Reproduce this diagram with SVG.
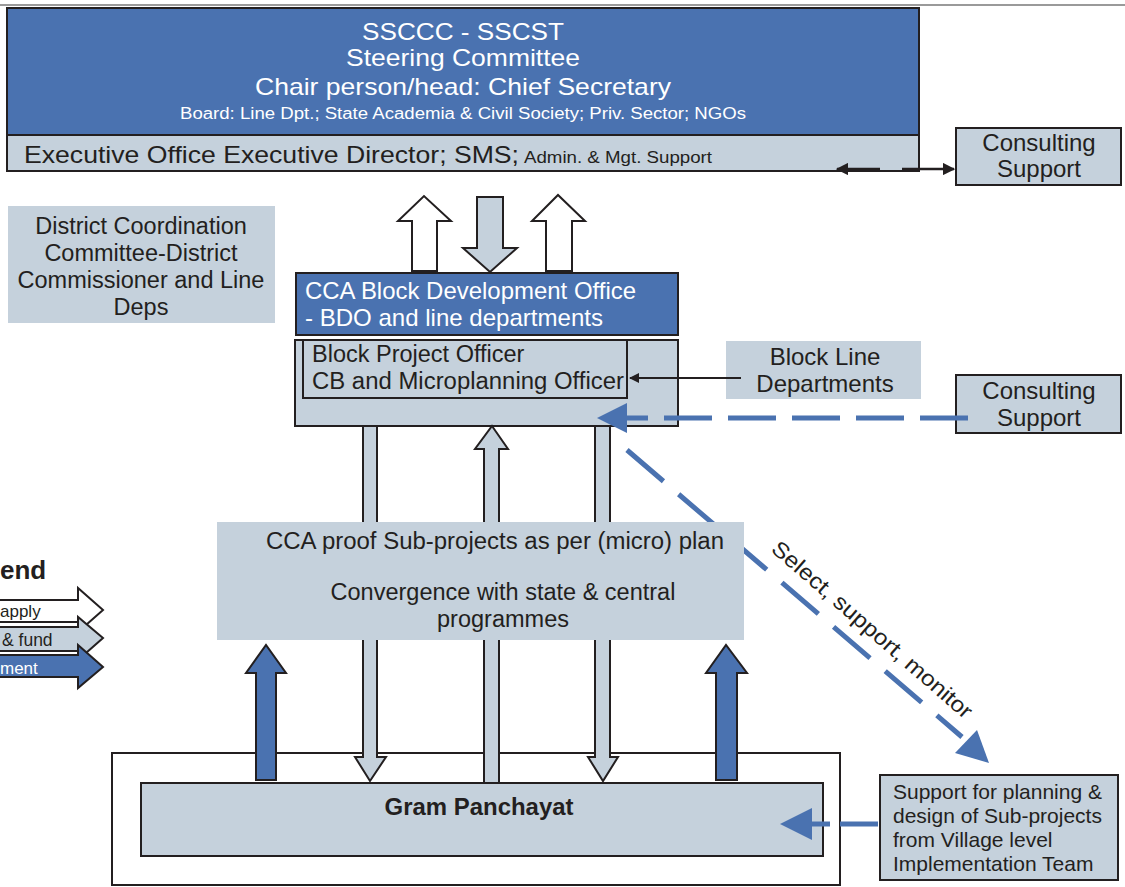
<svg xmlns="http://www.w3.org/2000/svg" width="1125" height="887" viewBox="0 0 1125 887">
<defs>
<style>
text{font-family:"Liberation Sans",Arial,sans-serif;fill:#231f20}
.blue{fill:#4a72b0}
.lg{fill:#c5d1dc}
.wh{fill:#ffffff}
.stk{stroke:#231f20;stroke-width:2}
.w{fill:#ffffff}
.dash{stroke:#4a72b0;stroke-width:5;fill:none;stroke-dasharray:48 16}
.mid{text-anchor:middle}
</style>
<marker id="ah" viewBox="0 0 10 10" refX="9" refY="5" markerWidth="5" markerHeight="5" orient="auto-start-reverse"><path d="M0,0 L10,5 L0,10 Z" fill="#231f20"/></marker>
</defs>
<rect width="1125" height="887" fill="#ffffff"/>
<line x1="0" y1="5" x2="1125" y2="5" stroke="#9a9a9a" stroke-width="2"/>

<g id="steering">
<rect x="7" y="8" width="912" height="127" class="blue stk"/>
<text x="463" y="40" class="mid" font-size="24" textLength="202" lengthAdjust="spacingAndGlyphs" style="fill:#fff">SSCCC - SSCST</text>
<text x="463" y="66" class="mid" font-size="24" textLength="234" lengthAdjust="spacingAndGlyphs" style="fill:#fff">Steering Committee</text>
<text x="463" y="95" class="mid" font-size="24" textLength="416" lengthAdjust="spacingAndGlyphs" style="fill:#fff">Chair person/head: Chief Secretary</text>
<text x="463" y="119" class="mid" font-size="16" textLength="566" lengthAdjust="spacingAndGlyphs" style="fill:#fff">Board: Line Dpt.; State Academia &amp; Civil Society; Priv. Sector; NGOs</text>
</g>
<g id="exec">
<rect x="7" y="135" width="912" height="36" class="lg stk"/>
<text x="24" y="163" font-size="24" textLength="495" lengthAdjust="spacingAndGlyphs">Executive Office Executive Director; SMS;</text>
<text x="524" y="163" font-size="16" textLength="188" lengthAdjust="spacingAndGlyphs">Admin. &amp; Mgt. Support</text>
</g>
<g id="consult1">
<rect x="956" y="128" width="165" height="57" class="lg stk"/>
<text x="1039" y="151" class="mid" font-size="24">Consulting</text>
<text x="1039" y="177" class="mid" font-size="24">Support</text>
</g>
<g id="district">
<rect x="8" y="206" width="267" height="117" class="lg"/>
<text x="141" y="234" class="mid" font-size="23.5">District Coordination</text>
<text x="141" y="261" class="mid" font-size="23.5">Committee-District</text>
<text x="141" y="288" class="mid" font-size="23.5">Commissioner and Line</text>
<text x="141" y="315" class="mid" font-size="23.5">Deps</text>
</g>
<g id="bdo">
<rect x="296" y="273" width="382" height="62" class="blue stk"/>
<text x="305" y="299" font-size="24" style="fill:#fff" textLength="331" lengthAdjust="spacingAndGlyphs">CCA Block Development Office</text>
<text x="305" y="326" font-size="24" style="fill:#fff" textLength="298" lengthAdjust="spacingAndGlyphs">- BDO and line departments</text>
</g>
<g id="bpo">
<rect x="295" y="340" width="383" height="86" class="lg stk"/>
<rect x="303" y="340" width="324" height="58" class="lg stk"/>
<text x="312" y="362" font-size="23.5">Block Project Officer</text>
<text x="312" y="389" font-size="23.5" textLength="312" lengthAdjust="spacingAndGlyphs">CB and Microplanning Officer</text>
</g>
<g id="blockline">
<rect x="726" y="341" width="195" height="58" class="lg"/>
<text x="825" y="365" class="mid" font-size="24">Block Line</text>
<text x="825" y="392" class="mid" font-size="24">Departments</text>
</g>
<g id="consult2">
<rect x="956" y="375" width="165" height="58" class="lg stk"/>
<text x="1039" y="399" class="mid" font-size="24">Consulting</text>
<text x="1039" y="426" class="mid" font-size="24">Support</text>
</g>

<g id="gpframe">
<rect x="112" y="753" width="728" height="132" fill="#ffffff" class="stk"/>
</g>

<g id="connectors">
<line x1="880" y1="169" x2="837" y2="169" stroke="#231f20" stroke-width="2.5" marker-end="url(#ah)"/>
<line x1="902" y1="169" x2="954" y2="169" stroke="#231f20" stroke-width="2.5" marker-end="url(#ah)"/>
<polygon points="412,271 412,221 398,221 424,196 451,221 437,221 437,271" class="wh stk"/>
<polygon points="477,197 503,197 503,248 517,248 490,272 463,248 477,248" class="lg stk"/>
<polygon points="546,271 546,221 532,221 558,195 585,221 572,221 572,271" class="wh stk"/>
<line x1="741" y1="378" x2="630" y2="378" stroke="#231f20" stroke-width="2" marker-end="url(#ah)"/>
<line x1="968" y1="418" x2="626" y2="418" class="dash"/>
<polygon points="597,418 627,403 627,433" fill="#4a72b0"/>
<line x1="627" y1="450" x2="962" y2="737" class="dash" style="stroke-dasharray:48 20"/>
<polygon points="989,763 955,753 977,730" fill="#4a72b0"/>
<polygon points="363,426 363,757 355,757 370,781 386,757 377,757 377,426" class="lg stk"/>
<polygon points="492,426 508,449 499,449 499,783 484,783 484,449 475,449" class="lg stk"/>
<polygon points="595,426 595,757 588,757 603,781 618,757 610,757 610,426" class="lg stk"/>
</g>

<g id="ccaproof">
<rect x="217" y="522" width="527" height="118" class="lg"/>
<text x="495" y="549" class="mid" font-size="23" textLength="458" lengthAdjust="spacingAndGlyphs">CCA proof Sub-projects as per (micro) plan</text>
<text x="503" y="600" class="mid" font-size="23.5">Convergence with state &amp; central</text>
<text x="503" y="627" class="mid" font-size="23.5">programmes</text>
</g>

<g id="legend">
<text x="0" y="579" font-size="26" font-weight="bold">end</text>
<polygon points="-5,600 78,600 78,588 103,610 78,632 78,622 -5,622" class="wh stk"/>
<text x="0" y="617" font-size="17">apply</text>
<polygon points="-5,627 78,627 78,617 103,638 78,660 78,651 -5,651" class="lg stk"/>
<text x="2" y="646" font-size="17.5">&amp; fund</text>
<polygon points="-5,655 78,655 78,645 103,667 78,688 78,677 -5,677" class="blue stk"/>
<text x="0" y="674" font-size="17" style="fill:#fff">ment</text>
</g>

<g id="uparrows">
<polygon points="256,780 256,673 246,673 266,645 286,673 276,673 276,780" class="blue stk" stroke-width="2.5"/>
<polygon points="716,780 716,673 706,673 726,645 747,673 737,673 737,780" class="blue stk" stroke-width="2.5"/>
</g>
<g id="gp">
<rect x="141" y="783" width="682" height="73" class="lg stk"/>
<text x="479" y="815" class="mid" font-size="23" font-weight="bold" textLength="189" lengthAdjust="spacingAndGlyphs">Gram Panchayat</text>
</g>
<g id="vlit">
<rect x="880" y="775" width="238" height="105" class="lg stk"/>
<text x="893" y="799" font-size="21">Support for planning &amp;</text>
<text x="893" y="823" font-size="21">design of Sub-projects</text>
<text x="893" y="847" font-size="21">from Village level</text>
<text x="893" y="871" font-size="21">Implementation Team</text>
</g>
<g id="connectors2">
<line x1="878" y1="824" x2="840" y2="824" stroke="#4a72b0" stroke-width="5"/>
<line x1="830" y1="824" x2="810" y2="824" stroke="#4a72b0" stroke-width="5"/>
<polygon points="780,824 812,808 812,840" fill="#4a72b0"/>
<text transform="translate(872,630) rotate(41)" x="0" y="7" class="mid" font-size="22" textLength="258" lengthAdjust="spacingAndGlyphs">Select, support, monitor</text>
</g>
</svg>
